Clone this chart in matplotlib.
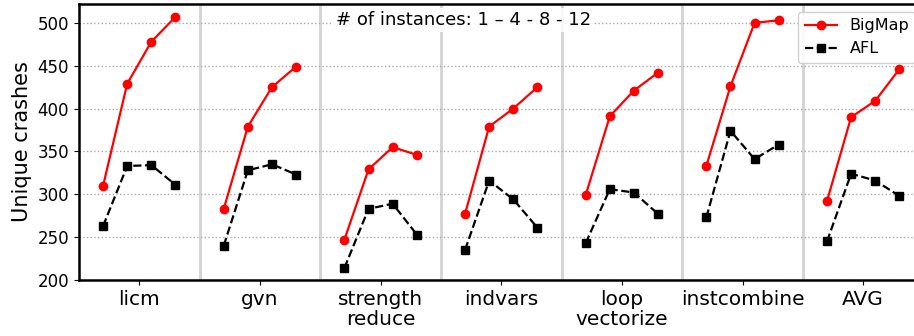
import matplotlib
matplotlib.use("Agg")
from matplotlib import pyplot as plt
import numpy as np

groups = ["licm", "gvn", "strength\nreduce", "indvars", "loop\nvectorize", "instcombine", "AVG"]
instances = [1, 4, 8, 12]

bigmap = [
    [310, 429, 478, 507],
    [283, 379, 425, 449],
    [247, 329, 355, 346],
    [277, 379, 400, 425],
    [299, 391, 421, 442],
    [333, 426, 500, 503],
    [292, 390, 409, 446],
]
afl = [
    [263, 333, 334, 311],
    [240, 328, 335, 323],
    [214, 283, 289, 253],
    [235, 316, 294, 261],
    [243, 306, 302, 277],
    [273, 374, 341, 358],
    [245, 324, 316, 298],
]

offsets = np.array([-0.3, -0.1, 0.1, 0.3])

fig = plt.figure(figsize=(9.14, 3.36), dpi=100)
ax = fig.add_axes([0.0864, 0.1667, 0.924, 0.8214])

for i in range(len(groups)):
    xs = i + offsets
    ax.plot(xs, bigmap[i], color="red", marker="o", ms=6, lw=1.6,
            label="BigMap" if i == 0 else None)
    ax.plot(xs, afl[i], color="black", marker="s", ms=6, lw=1.6, ls="--",
            label="AFL" if i == 0 else None)

for i in range(len(groups) - 1):
    ax.axvline(i + 0.5, color="#d3d3d3", lw=2, zorder=0)

ax.set_xlim(-0.5, 6.5)
ax.set_ylim(200, 522)
ax.set_yticks([200, 250, 300, 350, 400, 450, 500])
ax.yaxis.grid(True, ls=":", color="#aaaaaa", lw=1)
ax.set_axisbelow(True)
ax.set_xticks(range(len(groups)))
ax.set_xticklabels(groups, fontsize=14.5, linespacing=1.1)
ax.tick_params(axis="y", labelsize=12)
ax.set_ylabel("Unique crashes", fontsize=15)
for s in ax.spines.values():
    s.set_linewidth(1.8)

ax.text(0.455, 0.942, "# of instances: 1 \u2013 4 - 8 - 12", transform=ax.transAxes,
        ha="center", va="center", fontsize=13,
        bbox=dict(facecolor="white", edgecolor="none", alpha=0.85, pad=2))

ax.legend(loc="upper right", fontsize=11.5, framealpha=0.9)

fig.savefig("out.png", dpi=100)
